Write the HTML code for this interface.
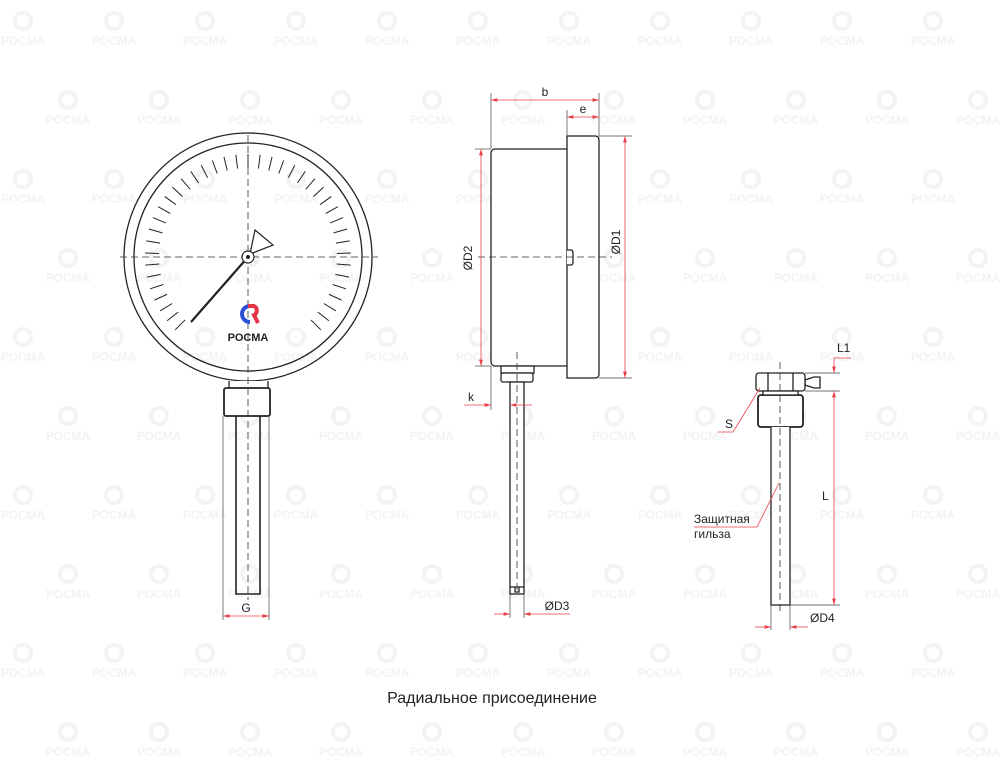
<!DOCTYPE html>
<html><head><meta charset="utf-8"><style>
html,body{margin:0;padding:0;background:#fff;}
svg{display:block;font-family:"Liberation Sans",sans-serif;}
</style></head><body>
<svg id="s" width="1000" height="777" viewBox="0 0 1000 777" xmlns="http://www.w3.org/2000/svg">
<defs>
<marker id="a" viewBox="0 0 10 6" refX="10" refY="3" markerWidth="8" markerHeight="5" orient="auto-start-reverse"><path d="M0,0 L10,3 L0,6 z" fill="#e8404a"/></marker>
</defs>
<g id="wm" fill="#f3f3f3" font-weight="bold" font-size="12" text-anchor="middle"></g>

<g fill="none" stroke="#222" stroke-width="1.3">
<circle cx="248" cy="257" r="124"/>
<circle cx="248" cy="257" r="114"/>
<g id="ticks" stroke-width="1"></g>
<path d="M229,381 L229,389 L268,389 L268,381" fill="#fff"/>
<rect x="224" y="388" width="46" height="28" rx="2" fill="#fff" stroke-width="1.8"/>
<path d="M236,416 L236,594 L260,594 L260,416" stroke-width="1.6"/>
</g>
<g stroke="#333" stroke-width="0.8" stroke-dasharray="7,4" fill="none">
<line x1="120" y1="257" x2="378" y2="257"/>
<line x1="248" y1="135" x2="248" y2="600"/>
</g>
<path d="M248,257 L191,322" stroke="#222" stroke-width="2.2"/>
<path d="M250,254 L255,230 L273,245 Z" fill="#fff" stroke="#222" stroke-width="1.2"/>
<circle cx="248" cy="257" r="6" fill="#fff" stroke="#222" stroke-width="1.2"/>
<circle cx="248" cy="257" r="2" fill="#222"/>
<path d="M250,306 A8,8 0 1 0 250,322" fill="none" stroke="#2d4fd6" stroke-width="4"/>
<path d="M248,306 L254,306 A5,5 0 0 1 254,315 L258,323" fill="none" stroke="#e53545" stroke-width="4"/>
<text x="248" y="341" font-size="11" font-weight="bold" text-anchor="middle" fill="#222">РОСМА</text>
<g stroke="#444" stroke-width="0.7"><line x1="223" y1="416" x2="223" y2="620"/><line x1="269" y1="416" x2="269" y2="620"/></g>
<line x1="223" y1="616" x2="269" y2="616" stroke="#e8404a" stroke-width="0.8" marker-start="url(#a)" marker-end="url(#a)"/>
<text x="246" y="612" font-size="12" text-anchor="middle" fill="#222">G</text>

<g fill="#fff" stroke="#222" stroke-width="1.3">
<rect x="491" y="149" width="80" height="217" rx="4"/>
<path d="M567,136 L595,136 Q599,136 599,140 L599,374 Q599,378 595,378 L567,378 Z"/>
<path d="M567,250 L571,250 Q573,250 573,253 L573,262 Q573,265 571,265 L567,265"/>
<rect x="501" y="366" width="33" height="7"/>
<rect x="501" y="373" width="32" height="9" rx="2"/>
<rect x="510" y="382" width="14" height="212"/>
<path d="M510,587 L524,587 M515,587 L515,592 L519,592 L519,587" fill="none"/>
</g>
<g stroke="#333" stroke-width="0.8" stroke-dasharray="7,4" fill="none">
<line x1="478" y1="257" x2="612" y2="257"/>
<line x1="517" y1="352" x2="517" y2="594"/>
</g>
<g stroke="#444" stroke-width="0.7">
<line x1="491" y1="93" x2="491" y2="149"/><line x1="599" y1="93" x2="599" y2="136"/>
<line x1="567" y1="110" x2="567" y2="136"/>
<line x1="475" y1="149" x2="491" y2="149"/><line x1="475" y1="366" x2="491" y2="366"/>
<line x1="599" y1="136" x2="632" y2="136"/><line x1="599" y1="378" x2="632" y2="378"/>
<line x1="491" y1="366" x2="491" y2="410"/>
<line x1="510" y1="594" x2="510" y2="618"/><line x1="524" y1="594" x2="524" y2="618"/>
</g>
<g stroke="#e8404a" stroke-width="0.8" fill="none">
<line x1="491" y1="100" x2="599" y2="100" marker-start="url(#a)" marker-end="url(#a)"/>
<line x1="567" y1="117" x2="599" y2="117" marker-start="url(#a)" marker-end="url(#a)"/>
<line x1="481" y1="149" x2="481" y2="366" marker-start="url(#a)" marker-end="url(#a)"/>
<line x1="625" y1="136" x2="625" y2="378" marker-start="url(#a)" marker-end="url(#a)"/>
<line x1="464" y1="405" x2="491" y2="405" marker-end="url(#a)"/>
<line x1="532" y1="405" x2="510" y2="405" marker-end="url(#a)"/>
<line x1="494" y1="614" x2="510" y2="614" marker-end="url(#a)"/>
<line x1="570" y1="614" x2="524" y2="614" marker-end="url(#a)"/>
</g>
<g font-size="12" fill="#222">
<text x="545" y="96" text-anchor="middle">b</text>
<text x="583" y="113" text-anchor="middle">e</text>
<text x="472" y="258" text-anchor="middle" transform="rotate(-90 472 258)">ØD2</text>
<text x="620" y="242" text-anchor="middle" transform="rotate(-90 620 242)">ØD1</text>
<text x="471" y="401" text-anchor="middle">k</text>
<text x="557" y="610" text-anchor="middle">ØD3</text>
</g>

<g fill="#fff" stroke="#222" stroke-width="1.3">
<path d="M805,380 L814,377 L820,377 L820,388 L814,388 L805,385 Z"/>
<rect x="756" y="373" width="49" height="18" rx="3"/>
<path d="M768,373 L768,391 M793,373 L793,391" fill="none"/>
<rect x="758" y="395" width="45" height="32" rx="3" stroke-width="1.8"/>
<rect x="763" y="391" width="35" height="4"/>
<path d="M771,427 L771,605 L790,605 L790,427"/>
</g>
<line x1="780" y1="362" x2="780" y2="612" stroke="#333" stroke-width="0.8" stroke-dasharray="7,4"/>
<g stroke="#444" stroke-width="0.7">
<line x1="805" y1="373" x2="840" y2="373"/><line x1="805" y1="391" x2="840" y2="391"/>
<line x1="790" y1="605" x2="840" y2="605"/>
<line x1="771" y1="605" x2="771" y2="630"/><line x1="790" y1="605" x2="790" y2="630"/>
</g>
<g stroke="#e8404a" stroke-width="0.8" fill="none">
<line x1="834" y1="358" x2="834" y2="373" marker-end="url(#a)"/>
<polyline points="834,358 851,358"/>
<line x1="834" y1="391" x2="834" y2="605" marker-start="url(#a)" marker-end="url(#a)"/>
<line x1="755" y1="627" x2="771" y2="627" marker-end="url(#a)"/>
<line x1="808" y1="627" x2="790" y2="627" marker-end="url(#a)"/>
<polyline points="718,432 733,432 760,388"/>
<polyline points="694,527 757,527 779,483"/>
</g>
<g font-size="12" fill="#222">
<text x="837" y="352">L1</text>
<text x="822" y="500">L</text>
<text x="725" y="428">S</text>
<text x="810" y="622">ØD4</text>
<text x="694" y="523">Защитная</text>
<text x="694" y="538">гильза</text>
</g>
<text x="492" y="703" font-size="16" text-anchor="middle" fill="#222">Радиальное присоединение</text>
</svg>
<script>
var ns="http://www.w3.org/2000/svg";
var t=document.getElementById('ticks');
for(var i=0;i<=40;i++){var a=(-135+i*6.75)*Math.PI/180;var s=Math.sin(a),c=-Math.cos(a);
var l=document.createElementNS(ns,'line');l.setAttribute('x1',248+89*s);l.setAttribute('y1',257+89*c);l.setAttribute('x2',248+103*s);l.setAttribute('y2',257+103*c);t.appendChild(l);}
var w=document.getElementById('wm');
for(var r=0;r<10;r++){for(var k=-1;k<12;k++){var x=23+k*91+(r%2?45:0),y=45+r*79;
var tx=document.createElementNS(ns,'text');tx.setAttribute('x',x);tx.setAttribute('y',y);tx.textContent='РОСМА';w.appendChild(tx);
var c2=document.createElementNS(ns,'circle');c2.setAttribute('cx',x);c2.setAttribute('cy',y-24);c2.setAttribute('r',8);c2.setAttribute('fill','none');c2.setAttribute('stroke','#f3f3f3');c2.setAttribute('stroke-width','4');w.appendChild(c2);}}
</script>
</body></html>
